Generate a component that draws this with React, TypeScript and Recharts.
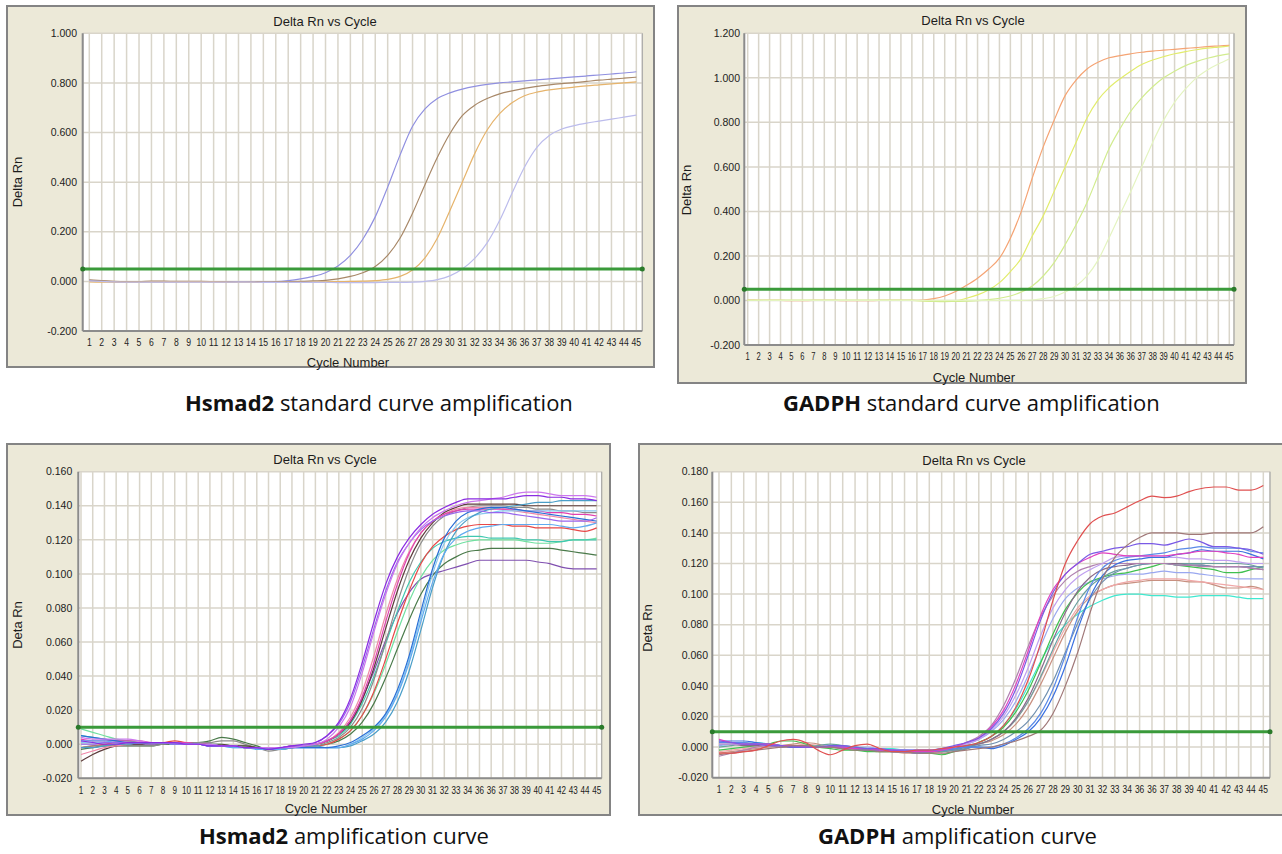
import { CartesianGrid, Line, LineChart, ReferenceDot, ReferenceLine, XAxis, YAxis } from "recharts";

type Series = { name: string; color: string; values: number[] };
type Rect = { x: number; y: number; w: number; h: number };
type Plot = { x0: number; y0: number; x1: number; y1: number };

const CHART_FONT = "'Liberation Sans', Arial, sans-serif";
const CAPTION_FONT = "'Open Sans', 'Noto Sans', sans-serif";

// ---- shared axis data ----
const CYCLES = [
  1, 2, 3, 4, 5, 6, 7, 8, 9, 10, 11, 12, 13, 14, 15, 16, 17, 18, 19, 20, 21, 22, 23,
  24, 25, 26, 27, 28, 29, 30, 31, 32, 33, 34, 35, 36, 37, 38, 39, 40, 41, 42, 43, 44, 45,
];
// the instrument export prints "36" twice (no "35")
const CYCLE_LABELS = [
  "1", "2", "3", "4", "5", "6", "7", "8", "9", "10", "11", "12", "13", "14", "15", "16",
  "17", "18", "19", "20", "21", "22", "23", "24", "25", "26", "27", "28", "29", "30", "31",
  "32", "33", "34", "36", "36", "37", "38", "39", "40", "41", "42", "43", "44", "45",
];

// ---- Hsmad2 standard curve ----
const HS_STD_Y_TICKS = [-0.2, 0, 0.2, 0.4, 0.6, 0.8, 1.0];
const HS_STD_THRESHOLD = 0.05;
const HS_STD_1 = [
  0.004, 0.001, -0.002, -0.003, -0.003, -0.002, -0.002, -0.002, -0.001, -0.001, -0.001, -0.002, -0.002, -0.002, -0.002, -0.001,
  0.003, 0.01, 0.02, 0.035, 0.062, 0.105, 0.17, 0.26, 0.38, 0.51, 0.625, 0.695, 0.737, 0.76, 0.775, 0.786, 0.794, 0.8, 0.804,
  0.808, 0.812, 0.816, 0.82, 0.824, 0.828, 0.832, 0.836, 0.84, 0.845,
];
const HS_STD_2 = [
  0.006, 0.003, 0.0, -0.001, -0.001, 0.001, 0.001, 0.0, 0.0, 0.0, -0.001, -0.002, -0.004, -0.003, -0.003, -0.002, -0.001, 0.0,
  0.002, 0.004, 0.01, 0.02, 0.035, 0.06, 0.105, 0.175, 0.275, 0.39, 0.5, 0.595, 0.668, 0.71, 0.737, 0.756, 0.768, 0.778, 0.786,
  0.792, 0.797, 0.801, 0.806, 0.811, 0.815, 0.819, 0.823,
];
const HS_STD_3 = [
  -0.002, -0.003, -0.003, -0.003, -0.003, -0.002, -0.002, -0.002, -0.002, -0.002, -0.002, -0.003, -0.004, -0.004, -0.004, -0.004,
  -0.004, -0.004, -0.003, -0.002, -0.001, 0.0, 0.001,
  0.003, 0.008, 0.02, 0.046, 0.095, 0.175, 0.285, 0.4, 0.515, 0.61, 0.676, 0.72, 0.748, 0.763, 0.772, 0.778, 0.783, 0.788, 0.792,
  0.796, 0.8, 0.804,
];
const HS_STD_4 = [
  0.002, 0.0, -0.002, -0.003, -0.003, -0.003, -0.003, -0.003, -0.003, -0.003, -0.003, -0.003, -0.003, -0.003, -0.004, -0.004,
  -0.004, -0.004, -0.004, -0.004, -0.005, -0.005, -0.005, -0.005, -0.004, -0.004, -0.003,
  0.0, 0.007, 0.022, 0.05, 0.093, 0.155, 0.245, 0.355, 0.46, 0.54, 0.588, 0.614, 0.628, 0.638, 0.646, 0.654, 0.662, 0.67,
];

// ---- GADPH standard curve ----
const GA_STD_Y_TICKS = [-0.2, 0, 0.2, 0.4, 0.6, 0.8, 1.0, 1.2];
const GA_STD_THRESHOLD = 0.05;
const GA_STD_1 = [
  0.002, 0.001, 0.0, 0.0, -0.001, -0.001, 0.0, 0.0, 0.0, -0.001, -0.001, -0.001, 0.0, 0.0, 0.0, 0.0,
  0.002, 0.008, 0.02, 0.04, 0.068, 0.1, 0.14, 0.19, 0.28, 0.4, 0.55, 0.69, 0.81, 0.92, 0.99, 1.04, 1.07, 1.09, 1.1, 1.108,
  1.115, 1.12, 1.124, 1.128, 1.132, 1.136, 1.14, 1.143, 1.146,
];
const GA_STD_2 = [
  0.0, 0.0, 0.0, 0.0, 0.0, 0.001, 0.001, 0.0, 0.0, 0.0, 0.0, 0.0, 0.0, 0.0, 0.0, 0.0, -0.001, -0.002, -0.002, -0.001,
  0.01, 0.025, 0.047, 0.08, 0.13, 0.19, 0.29, 0.38, 0.49, 0.6, 0.71, 0.82, 0.9, 0.955, 0.995, 1.03, 1.06, 1.08, 1.095, 1.108,
  1.118, 1.126, 1.133, 1.138, 1.143,
];
const GA_STD_3 = [
  0.0, 0.0, 0.0, 0.0, 0.0, 0.0, 0.0, 0.0, 0.0, 0.0, 0.0, 0.0, 0.0, 0.0, 0.0, 0.0, -0.002, -0.004, -0.005, -0.004, -0.003, -0.001,
  0.004, 0.01, 0.02, 0.038, 0.065, 0.11, 0.17, 0.25, 0.34, 0.44, 0.56, 0.68, 0.77, 0.85, 0.91, 0.96, 1.0, 1.03, 1.055, 1.073,
  1.088, 1.1, 1.108,
];
const GA_STD_4 = [
  0.001, 0.001, 0.0, 0.0, 0.0, 0.0, 0.0, 0.0, 0.0, 0.0, 0.0, 0.0, 0.0, 0.0, 0.0, 0.0, 0.0, 0.0, 0.0, 0.0, 0.0, 0.0, 0.0, 0.0,
  0.0, 0.0,
  0.002, 0.008, 0.018, 0.038, 0.065, 0.11, 0.18, 0.28, 0.385, 0.49, 0.6, 0.71, 0.81, 0.89, 0.95, 1.0, 1.035, 1.062, 1.085,
];

// ---- Hsmad2 amplification (samples) ----
const HS_AMP_Y_TICKS = [-0.02, 0, 0.02, 0.04, 0.06, 0.08, 0.1, 0.12, 0.14, 0.16];
const HS_AMP_THRESHOLD = 0.01;
const HS_AMP_V1 = [
  0.002, 0.001, 0.0, 0.0, 0.001, 0.001, 0.001, 0.001, 0.001, 0.0, 0.0, -0.001, -0.001, -0.001, -0.002, -0.002, -0.003, -0.002, -0.001, 0.0,
  0.001, 0.005, 0.013, 0.027, 0.048, 0.072, 0.094, 0.11, 0.121, 0.129, 0.135, 0.139, 0.142, 0.144, 0.144, 0.144, 0.144, 0.145, 0.146, 0.146, 0.145, 0.145, 0.144, 0.144, 0.143,
];
const HS_AMP_V2 = [
  0.004, 0.003, 0.003, 0.003, 0.003, 0.002, 0.001, 0.001, 0.001, 0.0, 0.0, 0.0, -0.001, -0.001, -0.002, -0.002, -0.002, -0.002, -0.002, -0.001,
  0.0, 0.003, 0.01, 0.022, 0.042, 0.066, 0.088, 0.106, 0.118, 0.127, 0.133, 0.137, 0.14, 0.142, 0.143, 0.144, 0.145, 0.147, 0.148, 0.148, 0.147, 0.146, 0.146, 0.146, 0.145,
];
const HS_AMP_V3 = [
  0.0, 0.0, 0.001, 0.001, 0.001, 0.001, 0.001, 0.001, 0.0, 0.0, 0.0, -0.001, -0.001, -0.001, -0.002, -0.002, -0.002, -0.002, -0.001, -0.001,
  0.001, 0.005, 0.012, 0.025, 0.045, 0.068, 0.09, 0.107, 0.118, 0.126, 0.131, 0.134, 0.136, 0.137, 0.137, 0.136, 0.136, 0.135, 0.134, 0.133, 0.132, 0.131, 0.131, 0.131, 0.133,
];
const HS_AMP_M1 = [
  0.003, 0.002, 0.002, 0.002, 0.002, 0.002, 0.001, 0.001, 0.001, 0.001, 0.0, 0.0, -0.001, -0.001, -0.002, -0.002, -0.002, -0.002, -0.001, -0.001,
  0.0, 0.002, 0.006, 0.014, 0.028, 0.048, 0.072, 0.094, 0.112, 0.124, 0.131, 0.135, 0.137, 0.138, 0.138, 0.138, 0.138, 0.138, 0.137, 0.137, 0.136, 0.136, 0.135, 0.135, 0.134,
];
const HS_AMP_M2 = [
  -0.006, -0.004, -0.002, -0.001, 0.0, 0.001, 0.001, 0.001, 0.001, 0.001, 0.0, 0.0, -0.001, -0.001, -0.002, -0.002, -0.003, -0.002, -0.002, -0.001,
  0.0, 0.002, 0.007, 0.016, 0.031, 0.052, 0.076, 0.097, 0.113, 0.124, 0.131, 0.135, 0.138, 0.139, 0.139, 0.139, 0.138, 0.137, 0.136, 0.135, 0.134, 0.133, 0.132, 0.131, 0.13,
];
const HS_AMP_M3 = [
  -0.002, -0.001, 0.0, 0.001, 0.001, 0.001, 0.001, 0.001, 0.002, 0.001, 0.001, 0.0, -0.001, -0.001, -0.002, -0.002, -0.002, -0.002, -0.002, -0.001,
  -0.001, 0.0, 0.003, 0.008, 0.017, 0.031, 0.05, 0.071, 0.09, 0.106, 0.116, 0.122, 0.126, 0.128, 0.129, 0.129, 0.129, 0.128, 0.128, 0.127, 0.127, 0.127, 0.126, 0.125, 0.127,
];
const HS_AMP_M4 = [
  -0.01, -0.006, -0.003, -0.001, 0.0, 0.0, 0.001, 0.001, 0.001, 0.001, 0.0, 0.0, 0.0, -0.001, -0.001, -0.002, -0.003, -0.002, -0.002, -0.001,
  0.0, 0.002, 0.006, 0.013, 0.026, 0.045, 0.068, 0.09, 0.108, 0.121, 0.13, 0.136, 0.139, 0.141, 0.141, 0.141, 0.141, 0.141, 0.14, 0.14, 0.14, 0.14, 0.14, 0.14, 0.14,
];
const HS_AMP_M5 = [
  -0.002, -0.001, -0.001, -0.001, -0.001, -0.001, -0.001, 0.0, 0.001, 0.001, 0.001, 0.001, 0.002, 0.002, 0.0, -0.002, -0.004, -0.003, -0.002, -0.001,
  -0.001, 0.001, 0.004, 0.01, 0.021, 0.038, 0.06, 0.083, 0.103, 0.118, 0.128, 0.134, 0.137, 0.139, 0.14, 0.14, 0.14, 0.139, 0.139, 0.138, 0.138, 0.137, 0.137, 0.136, 0.136,
];
const HS_AMP_M6 = [
  0.005, 0.004, 0.003, 0.002, 0.002, 0.001, 0.001, 0.001, 0.0, 0.0, 0.0, 0.0, -0.001, -0.001, -0.002, -0.002, -0.003, -0.003, -0.002, -0.001,
  0.0, 0.002, 0.005, 0.012, 0.024, 0.04, 0.059, 0.078, 0.095, 0.107, 0.115, 0.119, 0.121, 0.122, 0.122, 0.121, 0.121, 0.121, 0.12, 0.12, 0.119, 0.119, 0.12, 0.12, 0.12,
];
const HS_AMP_M7 = [
  0.009, 0.007, 0.005, 0.003, 0.002, 0.001, 0.001, 0.001, 0.0, 0.0, 0.0, 0.0, 0.0, -0.001, -0.001, -0.002, -0.003, -0.002, -0.002, -0.001,
  -0.001, 0.0, 0.003, 0.008, 0.017, 0.03, 0.047, 0.066, 0.084, 0.098, 0.108, 0.114, 0.117, 0.119, 0.12, 0.12, 0.12, 0.12, 0.119, 0.118, 0.118, 0.119, 0.12, 0.12, 0.121,
];
const HS_AMP_M8 = [
  -0.003, -0.002, -0.001, -0.001, -0.001, -0.001, -0.001, 0.0, 0.0, 0.001, 0.001, 0.002, 0.004, 0.003, 0.001, -0.001, -0.003, -0.003, -0.002, -0.001,
  -0.001, 0.0, 0.002, 0.006, 0.013, 0.024, 0.039, 0.056, 0.073, 0.088, 0.099, 0.106, 0.11, 0.113, 0.114, 0.115, 0.115, 0.115, 0.115, 0.115, 0.115, 0.114, 0.113, 0.112, 0.111,
];
const HS_AMP_M9 = [
  0.001, 0.001, 0.001, 0.001, 0.0, 0.0, 0.0, 0.0, 0.0, 0.0, 0.0, 0.0, -0.001, -0.001, -0.001, -0.002, -0.002, -0.002, -0.001, -0.001,
  0.0, 0.002, 0.006, 0.014, 0.027, 0.043, 0.061, 0.077, 0.089, 0.097, 0.1, 0.102, 0.104, 0.106, 0.108, 0.108, 0.108, 0.108, 0.108, 0.107, 0.106, 0.104, 0.103, 0.103, 0.103,
];
const HS_AMP_L1 = [
  0.005, 0.004, 0.003, 0.002, 0.001, 0.001, 0.001, 0.001, 0.001, 0.0, 0.0, -0.001, -0.001, -0.001, -0.002, -0.002, -0.003, -0.002, -0.002, -0.002,
  -0.002, -0.002, -0.001, 0.001, 0.005, 0.01, 0.018, 0.032, 0.052, 0.078, 0.103, 0.121, 0.131, 0.136, 0.138, 0.139, 0.139, 0.138, 0.137, 0.136, 0.135, 0.134, 0.133, 0.132, 0.131,
];
const HS_AMP_L2 = [
  0.002, 0.002, 0.002, 0.001, 0.001, 0.001, 0.001, 0.001, 0.001, 0.0, 0.0, 0.0, -0.001, -0.002, -0.002, -0.003, -0.003, -0.003, -0.002, -0.002,
  -0.002, -0.002, -0.002, 0.0, 0.003, 0.008, 0.016, 0.029, 0.048, 0.072, 0.095, 0.112, 0.121, 0.125, 0.127, 0.128, 0.129, 0.129, 0.129, 0.129, 0.129, 0.128, 0.127, 0.128, 0.13,
];
const HS_AMP_L3 = [
  -0.002, -0.002, -0.001, 0.0, 0.0, 0.001, 0.001, 0.001, 0.0, 0.0, 0.0, -0.001, -0.001, -0.001, -0.002, -0.002, -0.003, -0.003, -0.002, -0.001,
  -0.001, -0.002, -0.002, -0.001, 0.002, 0.006, 0.013, 0.025, 0.043, 0.067, 0.092, 0.112, 0.125, 0.132, 0.136, 0.138, 0.139, 0.14, 0.141, 0.142, 0.142, 0.143, 0.143, 0.143, 0.143,
];
const HS_AMP_L4 = [
  0.001, 0.001, 0.001, 0.001, 0.001, 0.001, 0.001, 0.001, 0.0, 0.0, 0.0, -0.001, -0.001, -0.002, -0.002, -0.002, -0.003, -0.003, -0.002, -0.002,
  -0.002, -0.002, -0.002, 0.0, 0.004, 0.009, 0.017, 0.03, 0.05, 0.075, 0.1, 0.118, 0.128, 0.133, 0.135, 0.136, 0.137, 0.137, 0.137, 0.137, 0.137, 0.137, 0.137, 0.137, 0.137,
];

// ---- GADPH amplification (samples) ----
const GA_AMP_Y_TICKS = [-0.02, 0, 0.02, 0.04, 0.06, 0.08, 0.1, 0.12, 0.14, 0.16, 0.18];
const GA_AMP_THRESHOLD = 0.01;
const GA_AMP_R = [
  -0.004, -0.004, -0.003, -0.002, 0.001, 0.004, 0.005, 0.003, -0.002, -0.005, -0.002, 0.001, 0.002, -0.001, -0.003, -0.003, -0.002, -0.002, -0.001, 0.0, 0.001,
  0.003, 0.007, 0.014, 0.026, 0.044, 0.068, 0.096, 0.12, 0.135, 0.146, 0.151, 0.153, 0.157, 0.161, 0.164, 0.163, 0.164, 0.167, 0.169, 0.17, 0.17, 0.168, 0.168, 0.171,
];
const GA_AMP_E1 = [
  0.004, 0.003, 0.002, 0.002, 0.001, 0.001, 0.0, 0.0, 0.0, 0.001, 0.001, 0.0, -0.001, -0.001, -0.002, -0.002, -0.002, -0.002, -0.001, 0.001, 0.003,
  0.006, 0.012, 0.022, 0.038, 0.06, 0.083, 0.101, 0.113, 0.12, 0.126, 0.128, 0.13, 0.131, 0.133, 0.133, 0.132, 0.134, 0.136, 0.134, 0.131, 0.131, 0.13, 0.129, 0.126,
];
const GA_AMP_E2 = [
  0.005, 0.003, 0.002, 0.002, 0.002, 0.001, 0.001, 0.0, 0.0, 0.0, 0.0, -0.001, -0.001, -0.002, -0.002, -0.003, -0.003, -0.003, -0.002, 0.0, 0.003,
  0.006, 0.013, 0.024, 0.041, 0.063, 0.086, 0.103, 0.113, 0.12, 0.124, 0.127, 0.126, 0.125, 0.125, 0.125, 0.125, 0.126, 0.127, 0.128, 0.128, 0.127, 0.126, 0.124, 0.124,
];
const GA_AMP_E3 = [
  -0.006, -0.004, -0.002, 0.0, 0.001, 0.001, 0.001, 0.001, 0.0, 0.0, 0.0, -0.001, -0.001, -0.002, -0.002, -0.003, -0.004, -0.003, -0.002, 0.0, 0.003,
  0.007, 0.014, 0.027, 0.045, 0.066, 0.085, 0.099, 0.109, 0.115, 0.118, 0.12, 0.12, 0.12, 0.12, 0.12, 0.12, 0.119, 0.119, 0.118, 0.118, 0.118, 0.118, 0.117, 0.116,
];
const GA_AMP_E4 = [
  0.002, 0.002, 0.002, 0.002, 0.001, 0.001, 0.001, 0.0, 0.0, 0.0, 0.0, -0.001, -0.001, -0.001, -0.002, -0.002, -0.002, -0.002, -0.001, 0.0, 0.002,
  0.005, 0.011, 0.02, 0.034, 0.052, 0.073, 0.091, 0.103, 0.111, 0.116, 0.12, 0.124, 0.125, 0.125, 0.124, 0.124, 0.124, 0.123, 0.123, 0.122, 0.122, 0.121, 0.12, 0.12,
];
const GA_AMP_E5 = [
  0.001, 0.002, 0.002, 0.002, 0.002, 0.001, 0.0, 0.0, 0.0, 0.001, 0.001, 0.0, 0.0, -0.001, -0.002, -0.002, -0.003, -0.002, -0.001, 0.0, 0.002,
  0.005, 0.01, 0.018, 0.03, 0.047, 0.066, 0.084, 0.097, 0.104, 0.108, 0.11, 0.112, 0.113, 0.113, 0.114, 0.115, 0.114, 0.114, 0.113, 0.112, 0.111, 0.11, 0.11, 0.11,
];
const GA_AMP_G = [
  -0.002, -0.001, 0.0, 0.001, 0.002, 0.004, 0.004, 0.002, 0.0, -0.001, -0.002, -0.002, -0.003, -0.003, -0.003, -0.003, -0.004, -0.004, -0.005, -0.003, -0.001,
  0.003, 0.007, 0.013, 0.023, 0.037, 0.055, 0.074, 0.09, 0.101, 0.108, 0.111, 0.113, 0.114, 0.116, 0.118, 0.12, 0.119, 0.118, 0.117, 0.116, 0.114, 0.114, 0.116, 0.118,
];
const GA_AMP_C = [
  0.001, 0.002, 0.002, 0.003, 0.002, 0.001, 0.001, 0.001, 0.0, 0.0, 0.0, 0.0, -0.001, -0.001, -0.001, -0.002, -0.002, -0.002, -0.001, 0.0, 0.001,
  0.003, 0.007, 0.014, 0.025, 0.04, 0.056, 0.07, 0.08, 0.087, 0.092, 0.096, 0.099, 0.1, 0.1, 0.099, 0.099, 0.098, 0.098, 0.099, 0.099, 0.099, 0.098, 0.097, 0.097,
];
const GA_AMP_T = [
  0.0, 0.001, 0.002, 0.002, 0.002, 0.001, 0.0, 0.0, 0.001, 0.002, 0.001, 0.0, -0.001, -0.002, -0.002, -0.002, -0.003, -0.003, -0.003, -0.002, 0.0,
  0.002, 0.005, 0.01, 0.018, 0.03, 0.046, 0.064, 0.081, 0.095, 0.105, 0.111, 0.115, 0.117, 0.119, 0.12, 0.12, 0.12, 0.12, 0.12, 0.12, 0.12, 0.12, 0.119, 0.117,
];
const GA_AMP_S = [
  -0.003, -0.002, -0.001, 0.0, 0.001, 0.001, 0.001, 0.002, 0.001, 0.0, -0.001, -0.002, -0.002, -0.002, -0.003, -0.003, -0.003, -0.004, -0.003, -0.002, 0.0,
  0.002, 0.005, 0.01, 0.018, 0.03, 0.045, 0.062, 0.078, 0.091, 0.099, 0.103, 0.106, 0.108, 0.109, 0.11, 0.11, 0.11, 0.109, 0.108, 0.107, 0.106, 0.105, 0.104, 0.103,
];
const GA_AMP_K = [
  -0.004, -0.003, -0.002, -0.001, 0.0, 0.001, 0.002, 0.003, 0.002, 0.0, 0.0, -0.001, -0.002, -0.003, -0.003, -0.004, -0.004, -0.004, -0.003, -0.002, -0.001,
  0.002, 0.004, 0.008, 0.015, 0.026, 0.041, 0.058, 0.075, 0.089, 0.098, 0.103, 0.106, 0.107, 0.108, 0.109, 0.109, 0.109, 0.108, 0.108, 0.106, 0.104, 0.104, 0.105, 0.103,
];
const GA_AMP_P = [
  0.002, 0.002, 0.001, 0.001, 0.001, 0.0, 0.0, 0.0, 0.0, 0.0, -0.001, -0.001, -0.001, -0.002, -0.002, -0.003, -0.003, -0.003, -0.002, -0.001, 0.001,
  0.002, 0.005, 0.01, 0.019, 0.032, 0.05, 0.07, 0.088, 0.102, 0.111, 0.116, 0.118, 0.119, 0.12, 0.12, 0.12, 0.12, 0.119, 0.119, 0.118, 0.118, 0.118, 0.117, 0.116,
];
const GA_AMP_B = [
  0.004, 0.004, 0.004, 0.003, 0.002, 0.001, 0.0, 0.0, 0.0, 0.0, 0.0, -0.001, -0.002, -0.002, -0.003, -0.003, -0.003, -0.003, -0.002, -0.001, 0.0,
  0.0, -0.001, 0.001, 0.005, 0.01, 0.019, 0.033, 0.053, 0.077, 0.098, 0.112, 0.119, 0.122, 0.123, 0.124, 0.124, 0.126, 0.127, 0.129, 0.128, 0.128, 0.128, 0.126, 0.123,
];
const GA_AMP_B2 = [
  0.003, 0.003, 0.003, 0.002, 0.002, 0.001, 0.001, 0.0, 0.0, 0.0, 0.0, -0.001, -0.001, -0.002, -0.002, -0.003, -0.003, -0.003, -0.002, -0.002, -0.001,
  0.001, 0.002, 0.005, 0.01, 0.017, 0.028, 0.043, 0.062, 0.081, 0.097, 0.108, 0.114, 0.117, 0.119, 0.12, 0.12, 0.119, 0.119, 0.119, 0.118, 0.118, 0.118, 0.118, 0.118,
];
const GA_AMP_BR = [
  -0.005, -0.004, -0.003, -0.002, -0.001, 0.0, 0.001, 0.001, 0.0, 0.0, -0.001, -0.002, -0.002, -0.003, -0.003, -0.003, -0.004, -0.004, -0.004, -0.003, -0.002,
  -0.001, 0.0, 0.002, 0.004, 0.007, 0.011, 0.022, 0.04, 0.062, 0.088, 0.11, 0.124, 0.132, 0.137, 0.14, 0.14, 0.14, 0.139, 0.139, 0.14, 0.14, 0.14, 0.14, 0.144,
];
const GA_AMP_B3 = [
  0.003, 0.003, 0.003, 0.002, 0.002, 0.001, 0.001, 0.001, 0.0, 0.0, 0.0, -0.001, -0.002, -0.002, -0.003, -0.003, -0.004, -0.003, -0.002, -0.001, 0.0,
  0.0, 0.0, 0.002, 0.006, 0.012, 0.022, 0.038, 0.06, 0.085, 0.105, 0.117, 0.122, 0.124, 0.125, 0.126, 0.127, 0.129, 0.13, 0.131, 0.13, 0.13, 0.13, 0.128, 0.127,
];

const HS_STD_SERIES: Series[] = [
  { name: "std1", color: "#9090e0", values: HS_STD_1 },
  { name: "std2", color: "#a88868", values: HS_STD_2 },
  { name: "std3", color: "#e6b46c", values: HS_STD_3 },
  { name: "std4", color: "#bcbcec", values: HS_STD_4 },
];
const GA_STD_SERIES: Series[] = [
  { name: "std1", color: "#f5a474", values: GA_STD_1 },
  { name: "std2", color: "#e2ec6c", values: GA_STD_2 },
  { name: "std3", color: "#d2ec90", values: GA_STD_3 },
  { name: "std4", color: "#e4f4c0", values: GA_STD_4 },
];
const HS_AMP_SERIES: Series[] = [
  { name: "m9", color: "#8050b0", values: HS_AMP_M9 },
  { name: "m8", color: "#4a7a4a", values: HS_AMP_M8 },
  { name: "m7", color: "#70e0a0", values: HS_AMP_M7 },
  { name: "m6", color: "#40c8b0", values: HS_AMP_M6 },
  { name: "m3", color: "#e84848", values: HS_AMP_M3 },
  { name: "m5", color: "#8c8c8c", values: HS_AMP_M5 },
  { name: "m4", color: "#5c3c3c", values: HS_AMP_M4 },
  { name: "m2", color: "#f088a8", values: HS_AMP_M2 },
  { name: "m1", color: "#e040b0", values: HS_AMP_M1 },
  { name: "l4", color: "#88c8f0", values: HS_AMP_L4 },
  { name: "l3", color: "#4a9ec8", values: HS_AMP_L3 },
  { name: "l2", color: "#60aaf0", values: HS_AMP_L2 },
  { name: "l1", color: "#2a6fd6", values: HS_AMP_L1 },
  { name: "v3", color: "#9966ee", values: HS_AMP_V3 },
  { name: "v2", color: "#cc77ee", values: HS_AMP_V2 },
  { name: "v1", color: "#8a2be2", values: HS_AMP_V1 },
];
const GA_AMP_SERIES: Series[] = [
  { name: "c", color: "#40e8d0", values: GA_AMP_C },
  { name: "k", color: "#c89080", values: GA_AMP_K },
  { name: "s", color: "#f0a8a8", values: GA_AMP_S },
  { name: "e5", color: "#9aa8f0", values: GA_AMP_E5 },
  { name: "g", color: "#40c050", values: GA_AMP_G },
  { name: "t", color: "#6aa0a0", values: GA_AMP_T },
  { name: "p", color: "#8a6a8a", values: GA_AMP_P },
  { name: "b2", color: "#7090b0", values: GA_AMP_B2 },
  { name: "e3", color: "#b080b0", values: GA_AMP_E3 },
  { name: "e4", color: "#c0a0f0", values: GA_AMP_E4 },
  { name: "b", color: "#3a70e0", values: GA_AMP_B },
  { name: "b3", color: "#5a8ae8", values: GA_AMP_B3 },
  { name: "e2", color: "#e040c0", values: GA_AMP_E2 },
  { name: "e1", color: "#7a5ae6", values: GA_AMP_E1 },
  { name: "br", color: "#a07878", values: GA_AMP_BR },
  { name: "r", color: "#e05050", values: GA_AMP_R },
];

// condensed cycle labels, like the instrument software
function CycleTick(props: any) {
  const { x, y, payload, digitWidth } = props;
  const label = CYCLE_LABELS[payload.value - 1] ?? "";
  return (
    <text
      x={x}
      y={y}
      dy="0.71em"
      textAnchor="middle"
      fontSize={10.5}
      fontFamily={CHART_FONT}
      fill="#222"
      textLength={label.length * digitWidth}
      lengthAdjust="spacingAndGlyphs"
    >
      {label}
    </text>
  );
}

type PanelProps = {
  frame: Rect;
  plot: Plot;
  xDomain: [number, number];
  yDomain: [number, number];
  yTicks: number[];
  yTickGap: number;
  digitWidth: number;
  threshold: number;
  series: Series[];
};

function Panel({ frame, plot, xDomain, yDomain, yTicks, yTickGap, digitWidth, threshold, series }: PanelProps) {
  const rows = CYCLES.map((c, i) => {
    const row: Record<string, number> = { cycle: c };
    series.forEach((s, k) => {
      row["s" + k] = s.values[i];
    });
    return row;
  });
  const left = plot.x0 - frame.x;
  const top = plot.y0 - frame.y;
  const right = frame.x + frame.w - plot.x1;
  const bottom = frame.y + frame.h - plot.y1;
  return (
    <div
      style={{
        position: "absolute",
        left: frame.x,
        top: frame.y,
        width: frame.w,
        height: frame.h,
        boxSizing: "border-box",
        border: "2px solid #848484",
        background: "#ece9d8",
      }}
    >
      <div style={{ position: "absolute", left: -2, top: -2 }}>
        <LineChart width={frame.w} height={frame.h} data={rows} margin={{ top, right, bottom: 0, left: 0 }}>
          <CartesianGrid stroke="#d9d5ca" strokeWidth={1.5} fill="#ffffff" fillOpacity={1} />
          <XAxis
            type="number"
            dataKey="cycle"
            domain={xDomain}
            ticks={CYCLES}
            interval={0}
            allowDataOverflow
            height={bottom}
            tickLine={false}
            tickSize={6}
            tickMargin={2}
            axisLine={{ stroke: "#8c8c8c", strokeWidth: 2 }}
            tick={(p: any) => <CycleTick {...p} digitWidth={digitWidth} />}
          />
          <YAxis
            type="number"
            domain={yDomain}
            ticks={yTicks}
            interval={0}
            allowDataOverflow
            width={left}
            tickLine={false}
            tickSize={yTickGap - 2}
            tickMargin={2}
            axisLine={{ stroke: "#8c8c8c", strokeWidth: 2 }}
            tick={{ fontSize: 10.5, fill: "#222", fontFamily: CHART_FONT }}
            tickFormatter={(v: number) => v.toFixed(3)}
          />
          <ReferenceLine x={xDomain[1]} stroke="#a4a4a4" strokeWidth={1} />
          {series.map((s, k) => (
            <Line
              key={s.name}
              type="monotone"
              dataKey={"s" + k}
              stroke={s.color}
              strokeWidth={1.2}
              dot={false}
              activeDot={false}
              isAnimationActive={false}
            />
          ))}
          <ReferenceLine y={threshold} stroke="#3a9a3a" strokeWidth={3} />
          <ReferenceDot x={xDomain[0]} y={threshold} r={2.5} fill="#2a7a2a" stroke="none" />
          <ReferenceDot x={xDomain[1]} y={threshold} r={2.5} fill="#2a7a2a" stroke="none" />
        </LineChart>
      </div>
    </div>
  );
}

const LABEL_STYLE = { fontFamily: CHART_FONT, fontSize: 13, fill: "#1c1c1c" };

function ChartText({ x, y, text, rotate }: { x: number; y: number; text: string; rotate?: boolean }) {
  if (rotate) {
    return (
      <text x={x + 4.7} y={y} textAnchor="middle" transform={`rotate(-90 ${x + 4.7} ${y})`} style={LABEL_STYLE}>
        {text}
      </text>
    );
  }
  return (
    <text x={x} y={y + 4.7} textAnchor="middle" style={LABEL_STYLE}>
      {text}
    </text>
  );
}

function Caption({ x, y, bold, rest }: { x: number; y: number; bold: string; rest: string }) {
  return (
    <text x={x} y={y} style={{ fontFamily: CAPTION_FONT, fontSize: 22, fill: "#111" }}>
      <tspan fontWeight="bold">{bold}</tspan>
      <tspan>{rest}</tspan>
    </text>
  );
}

export default function App() {
  return (
    <div style={{ position: "absolute", left: 0, top: 0, width: 1282, height: 854, background: "#ffffff", overflow: "hidden" }}>
      <Panel
        frame={{ x: 6, y: 5, w: 649, h: 363 }}
        plot={{ x0: 82.7, y0: 33.3, x1: 642.3, y1: 331 }}
        xDomain={[0.47, 45.48]}
        yDomain={[-0.2, 1.0]}
        yTicks={HS_STD_Y_TICKS}
        yTickGap={5.7}
        digitWidth={4.8}
        threshold={HS_STD_THRESHOLD}
        series={HS_STD_SERIES}
      />
      <Panel
        frame={{ x: 677, y: 5, w: 570, h: 379 }}
        plot={{ x0: 744.3, y0: 33.3, x1: 1234, y1: 345 }}
        xDomain={[0.69, 45.43]}
        yDomain={[-0.2, 1.2]}
        yTicks={GA_STD_Y_TICKS}
        yTickGap={4.3}
        digitWidth={4.2}
        threshold={GA_STD_THRESHOLD}
        series={GA_STD_SERIES}
      />
      <Panel
        frame={{ x: 6, y: 443, w: 605, h: 373 }}
        plot={{ x0: 78.3, y0: 471.7, x1: 601.7, y1: 778.3 }}
        xDomain={[0.77, 45.43]}
        yDomain={[-0.02, 0.16]}
        yTicks={HS_AMP_Y_TICKS}
        yTickGap={6}
        digitWidth={4.5}
        threshold={HS_AMP_THRESHOLD}
        series={HS_AMP_SERIES}
      />
      <Panel
        frame={{ x: 638, y: 443, w: 650, h: 373 }}
        plot={{ x0: 712.3, y0: 471.7, x1: 1270, y1: 777.7 }}
        xDomain={[0.46, 45.54]}
        yDomain={[-0.02, 0.18]}
        yTicks={GA_AMP_Y_TICKS}
        yTickGap={4.3}
        digitWidth={4.7}
        threshold={GA_AMP_THRESHOLD}
        series={GA_AMP_SERIES}
      />
      <svg width={1282} height={854} style={{ position: "absolute", left: 0, top: 0, pointerEvents: "none" }}>
        <ChartText x={325} y={21} text="Delta Rn vs Cycle" />
        <ChartText x={348} y={362} text="Cycle Number" />
        <ChartText x={17} y={182} text="Delta Rn" rotate />

        <ChartText x={973} y={20} text="Delta Rn vs Cycle" />
        <ChartText x={974} y={377} text="Cycle Number" />
        <ChartText x={686} y={190} text="Delta Rn" rotate />

        <ChartText x={325} y={459} text="Delta Rn vs Cycle" />
        <ChartText x={326} y={808} text="Cycle Number" />
        <ChartText x={17} y={625} text="Deta Rn" rotate />

        <ChartText x={974} y={460} text="Delta Rn vs Cycle" />
        <ChartText x={973} y={809} text="Cycle Number" />
        <ChartText x={647} y={628} text="Deta Rn" rotate />

        <Caption x={185} y={411} bold="Hsmad2" rest=" standard curve amplification" />
        <Caption x={783} y={411} bold="GADPH" rest=" standard curve amplification" />
        <Caption x={199} y={844} bold="Hsmad2" rest=" amplification curve" />
        <Caption x={818} y={844} bold="GADPH" rest=" amplification curve" />
      </svg>
    </div>
  );
}
